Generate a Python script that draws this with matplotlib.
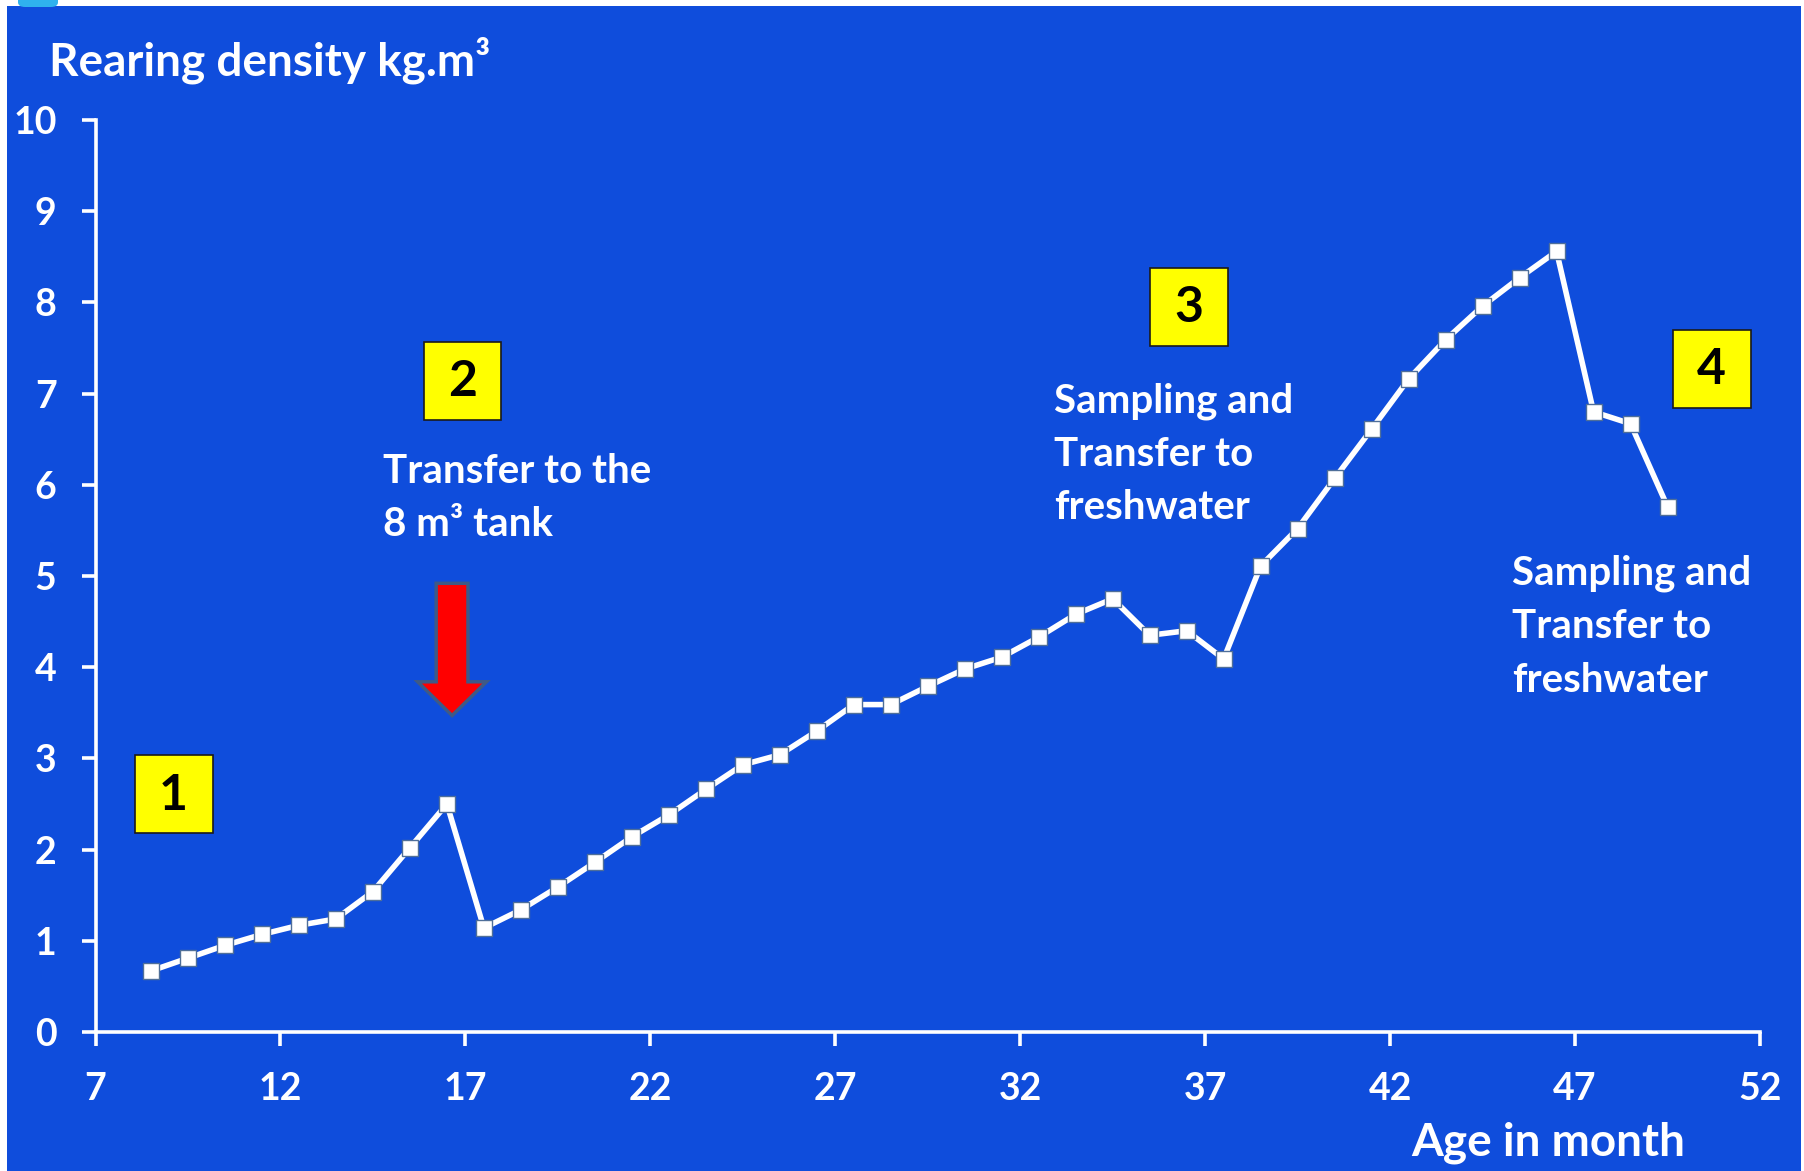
import matplotlib.pyplot as plt
from matplotlib.patches import Rectangle, Polygon, FancyBboxPatch

BLUE = "#0F4DDC"
WHITE = "#FFFFFF"
YELLOW = "#FFFF00"
RED = "#FF0000"
EDGE = "#4F6F99"
FONT = "Lato"

W, H = 1804, 1171

age = [8.5, 9.5, 10.5, 11.5, 12.5, 13.5, 14.5, 15.5, 16.5, 17.5,
       18.5, 19.5, 20.5, 21.5, 22.5, 23.5, 24.5, 25.5, 26.5, 27.5,
       28.5, 29.5, 30.5, 31.5, 32.5, 33.5, 34.5, 35.5, 36.5, 37.5,
       38.5, 39.5, 40.5, 41.5, 42.5, 43.5, 44.5, 45.5, 46.5, 47.5,
       48.5, 49.5]
density = [0.67, 0.81, 0.95, 1.07, 1.17, 1.24, 1.54, 2.02, 2.50, 1.14,
           1.34, 1.59, 1.86, 2.14, 2.38, 2.66, 2.93, 3.04, 3.30, 3.59,
           3.59, 3.79, 3.98, 4.11, 4.33, 4.58, 4.75, 4.35, 4.40, 4.09,
           5.11, 5.52, 6.07, 6.61, 7.16, 7.59, 7.96, 8.27, 8.56, 6.80,
           6.67, 5.76]

x_ticks = [7, 12, 17, 22, 27, 32, 37, 42, 47, 52]
y_ticks = [0, 1, 2, 3, 4, 5, 6, 7, 8, 9, 10]

steps = ["1", "2", "3", "4"]
notes = [[],
         ["Transfer to the", "8 m³ tank"],
         ["Sampling and", "Transfer to", "freshwater"],
         ["Sampling and", "Transfer to", "freshwater"]]


def fx(x):
    return x / W


def fy(y):
    return 1 - y / H


fig = plt.figure(figsize=(W / 100, H / 100), dpi=100)
fig.patch.set_facecolor(WHITE)

# blue slide panel
fig.add_artist(Rectangle((fx(7), 0), fx(1801 - 7), fy(6), transform=fig.transFigure,
                         facecolor=BLUE, edgecolor="none", zorder=0))
fig.add_artist(FancyBboxPatch((fx(18), fy(7)), fx(40), 0.02, transform=fig.transFigure,
                              boxstyle="round,pad=0,rounding_size=0.004",
                              facecolor="#2FB2EE", edgecolor="none", zorder=0))

ax = fig.add_axes([fx(95.5), fy(1032), fx(1760 - 95.5), (1032 - 120) / H])
ax.set_facecolor("none")

ax.plot(age, density, color=WHITE, lw=4, marker="s", ms=11.5,
        mfc=WHITE, mec=EDGE, mew=1.0, clip_on=False, zorder=5)

ax.set_xlim(7, 52)
ax.set_ylim(0, 10)
ax.set_xticks(x_ticks)
ax.set_yticks(y_ticks)
for s in ["top", "right"]:
    ax.spines[s].set_visible(False)
for s in ["left", "bottom"]:
    ax.spines[s].set_color(WHITE)
    ax.spines[s].set_linewidth(2.6)
ax.tick_params(colors=WHITE, width=2.6, length=10, direction="out")
ax.tick_params(axis="y", pad=18)
ax.tick_params(axis="x", pad=19)
for lab in ax.get_xticklabels() + ax.get_yticklabels():
    lab.set_fontfamily(FONT)
    lab.set_fontsize(27)
    lab.set_fontweight("bold")
    lab.set_color(WHITE)

fig.text(fx(49), fy(76), "Rearing density kg.m³", fontsize=33, fontweight="bold",
         family=FONT, color=WHITE, va="baseline", ha="left")
fig.text(fx(1411), fy(1155), "Age in month", fontsize=33, fontweight="bold",
         family=FONT, color=WHITE, va="baseline", ha="left")

# numbered step boxes (centre x, centre y in pixels)
box_pos = [(173.5, 794), (462.5, 381), (1189, 307), (1711.5, 369)]
for lab, (cx, cy) in zip(steps, box_pos):
    fig.add_artist(Rectangle((fx(cx - 39), fy(cy + 39)), fx(78), 78 / H,
                             transform=fig.transFigure, facecolor=YELLOW,
                             edgecolor="#1A1A1A", lw=1.2, zorder=6))
    fig.text(fx(cx), fy(cy + 1), lab, fontsize=36, fontweight="bold", family=FONT,
             color="black", ha="center", va="center", zorder=7)

# annotation lines: left x, first baseline y, line step
note_pos = [None, (383, 483), (1054, 412), (1512, 585)]
line_step = 53.5
for lines, pos in zip(notes, note_pos):
    if pos is None:
        continue
    for i, line in enumerate(lines):
        fig.text(fx(pos[0]), fy(pos[1] + i * line_step), line, fontsize=29,
                 fontweight="bold", family=FONT, color=WHITE,
                 ha="left", va="baseline", zorder=7)

# red arrow pointing at the 16.5 month peak
cx, half_shaft, half_head = 16.64, 0.43, 0.93
top, base, tip = 4.92, 3.84, 3.47
arrow = Polygon([(cx - half_shaft, top), (cx + half_shaft, top), (cx + half_shaft, base),
                 (cx + half_head, base), (cx, tip), (cx - half_head, base),
                 (cx - half_shaft, base)], closed=True, facecolor=RED,
                edgecolor="#3E5A86", lw=2.5, zorder=4)
ax.add_patch(arrow)

fig.savefig("out.png", dpi=100, facecolor=WHITE)
